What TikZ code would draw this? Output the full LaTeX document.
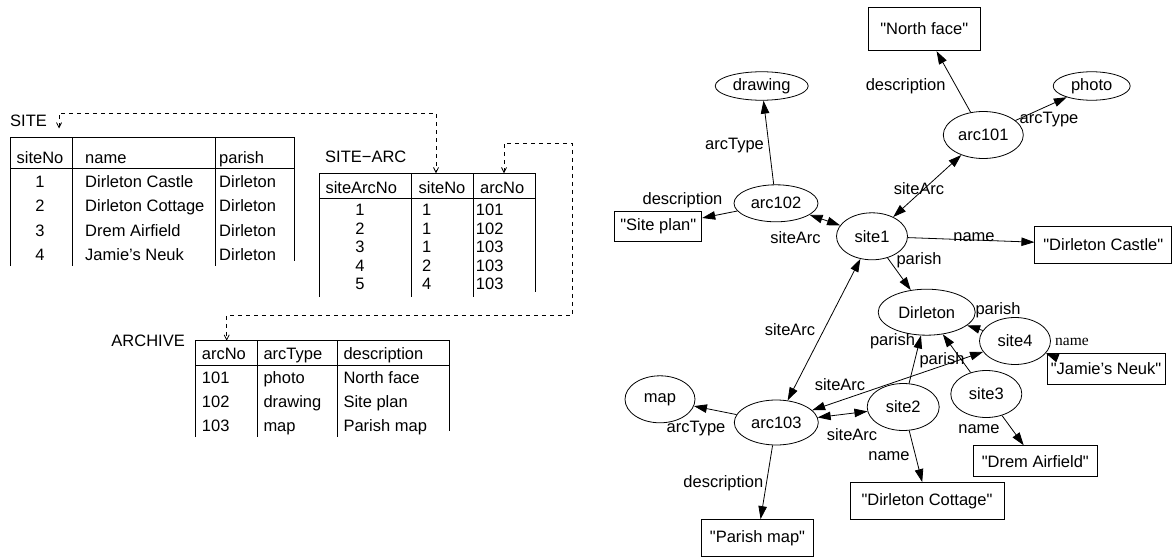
\documentclass[tikz,border=0pt]{standalone}
\usepackage{fontspec}
\setmainfont{Liberation Sans}[Ligatures=TeXOff]
\newfontfamily\serifname{Liberation Serif}
\usetikzlibrary{arrows.meta,shapes.geometric}

\begin{document}
\begin{tikzpicture}[x=1pt,y=-1pt,
  every node/.style={font=\fontsize{16.5}{19}\selectfont, inner sep=0pt},
  ent/.style={draw, ellipse, line width=0.8pt},
  lit/.style={draw, rectangle, line width=0.8pt},
  arr/.style={line width=0.8pt, -{Triangle[length=13pt,width=8.5pt]}},
  barr/.style={line width=0.8pt, {Triangle[length=13pt,width=8.5pt]}-{Triangle[length=13pt,width=8.5pt]}},
  rule/.style={line width=0.8pt},
  fk/.style={line width=0.8pt, dash pattern=on 4pt off 4pt,
    {Straight Barb[length=5pt,width=5pt]}-{Straight Barb[length=5pt,width=5pt]}},
  cell/.style={anchor=base west},
  ccell/.style={anchor=base},
  small/.style={font=\serifname\fontsize{15.5}{17}\selectfont}
]
\useasboundingbox (0,0) rectangle (1175,559);

% ---------------- relational tables ----------------
% SITE
\node[cell] (siteT) at (10,126.7) {SITE};
\draw[rule] (10.5,266) -- (10.5,137.5) -- (294,137.5) -- (294,261);
\draw[rule] (10.5,168) -- (294,168);
\draw[rule] (72,137.5) -- (72,266);
\draw[rule] (215,137.5) -- (215,266);
\node[ccell] (sh1) at (40,163.3) {siteNo};
\node[cell]  (sh2) at (85,163.3) {name};
\node[cell]  (sh3) at (219,163.3) {parish};
\foreach \n/\nm/\y in {1/Dirleton Castle/187.3, 2/Dirleton Cottage/211.7,
                       3/Drem Airfield/236, 4/Jamie’s Neuk/260} {
  \node[ccell] (s\n a) at (40,\y) {\n};
  \node[cell]  (s\n b) at (85,\y) {\nm};
  \node[cell]  (s\n c) at (219,\y) {Dirleton};
}

% SITE-ARC
\node[cell] (saT) at (325,162.3) {SITE−ARC};
\draw[rule] (319,297) -- (319,173.3) -- (535.3,173.3) -- (535.3,292);
\draw[rule] (319,198.3) -- (535.3,198.3);
\draw[rule] (411.7,173.3) -- (411.7,297);
\draw[rule] (473.3,173.3) -- (473.3,297);
\node[ccell] (sah1) at (361.3,193.3) {siteArcNo};
\node[ccell] (sah2) at (442,193.3) {siteNo};
\node[cell]  (sah3) at (480,193.3) {arcNo};
\foreach \a/\b/\c/\y in {1/1/101/215, 2/1/102/234, 3/1/103/252.3,
                         4/2/103/271.3, 5/4/103/289.3} {
  \node[ccell] (sa\a a) at (360,\y) {\a};
  \node[ccell] (sa\a b) at (426.7,\y) {\b};
  \node[cell]  (sa\a c) at (475.7,\y) {\c};
}

% ARCHIVE
\node[anchor=base east] (arT) at (185,346.7) {ARCHIVE};
\draw[rule] (195.7,437) -- (195.7,340.7) -- (449.3,340.7) -- (449.3,431);
\draw[rule] (195.7,365) -- (449.3,365);
\draw[rule] (257.3,340.7) -- (257.3,437);
\draw[rule] (337.3,340.7) -- (337.3,437);
\node[cell] (arh1) at (201.7,359.3) {arcNo};
\node[cell] (arh2) at (263.3,359.3) {arcType};
\node[cell] (arh3) at (343.3,359.3) {description};
\foreach \i/\a/\b/\c/\y in {1/101/photo/North face/383.3, 2/102/drawing/Site plan/407.3,
                            3/103/map/Parish map/431.7} {
  \node[cell] (ar\i a) at (201.7,\y) {\a};
  \node[cell] (ar\i b) at (263.3,\y) {\b};
  \node[cell] (ar\i c) at (343.3,\y) {\c};
}

% foreign-key references
\coordinate (fkSite) at (59,128.5);
\coordinate (fkSaSite) at (436,173.3);
\coordinate (fkSaArc) at (504,173.3);
\coordinate (fkArc) at (226.7,340.7);
\draw[fk] (fkSite) -- ++(0,-15.2) -| (fkSaSite);
\draw[fk] (fkSaArc) -- (504,143.3) -- (572.7,143.3) -- (572.7,315) -- (226.7,315) -- (fkArc);

% ---------------- graph ----------------
\node[ent, minimum width=93pt, minimum height=28.5pt] (drawing) at (761.7,86) {drawing};
\node[ent, minimum width=77pt, minimum height=28.5pt] (photo) at (1091.7,86) {photo};
\node[ent, minimum width=80pt, minimum height=47pt] (arc101) at (983.3,135) {arc101};
\node[ent, minimum width=84pt, minimum height=37pt] (arc102) at (776,203.3) {arc102};
\node[ent, minimum width=71pt, minimum height=47pt] (site1) at (872,236.3) {site1};
\node[ent, minimum width=97pt, minimum height=46pt] (dirleton) at (926.7,312.2) {Dirleton};
\node[ent, minimum width=71pt, minimum height=47pt] (site4) at (1015,341) {site4};
\node[ent, minimum width=71pt, minimum height=47pt] (site3) at (986.3,394) {site3};
\node[ent, minimum width=72pt, minimum height=47pt] (site2) at (903.2,407) {site2};
\node[ent, minimum width=84pt, minimum height=45pt] (arc103) at (776.3,422.5) {arc103};
\node[ent, minimum width=70pt, minimum height=47pt] (map) at (660,399.3) {map};

\node[lit, minimum width=112pt, minimum height=43.5pt] (northface) at (924.2,29) {"North face"};
\node[lit, minimum width=87pt, minimum height=30pt] (siteplan) at (658.3,226.7) {"Site plan"};
\node[lit, minimum width=137pt, minimum height=37pt] (castle) at (1103.3,244.7) {"Dirleton Castle"};
\node[lit, minimum width=118pt, minimum height=31pt] (jamie) at (1106,368.7) {"Jamie’s Neuk"};
\node[lit, minimum width=124pt, minimum height=31pt] (drem) at (1035.3,461.2) {"Drem Airfield"};
\node[lit, minimum width=154pt, minimum height=37pt] (cottage) at (927,501) {"Dirleton Cottage"};
\node[lit, minimum width=112pt, minimum height=37pt] (parishmap) at (757.5,538) {"Parish map"};

\draw[arr]  (arc102) -- (drawing);
\draw[arr]  (arc102) -- (siteplan);
\draw[barr] (arc102) -- (site1);
\draw[barr] (arc101) -- (site1);
\draw[arr]  (arc101) -- (northface);
\draw[arr]  (arc101) -- (photo);
\draw[arr]  (site1) -- (castle);
\draw[arr]  (site1) -- (dirleton);
\draw[barr] (arc103) -- (site1);
\draw[barr] (arc103) -- (site4);
\draw[barr] (arc103) -- (site2);
\draw[arr]  (arc103) -- (map);
\draw[arr]  (arc103) -- (parishmap);
\draw[arr]  (site2) -- (dirleton);
\draw[arr]  (site3) -- (dirleton);
\draw[arr]  (site4) -- (dirleton);
\coordinate (jn) at (1055,357);
\draw[arr]  (jn) -- (site4);
\draw[arr]  (site3) -- (drem);
\draw[arr]  (site2) -- (cottage);

% edge labels
\node (l1)  at (734.5,145.7) {arcType};
\node (l2)  at (682.5,200) {description};
\node (l3)  at (795.5,237.3) {siteArc};
\node (l4)  at (905.7,86) {description};
\node (l5)  at (1049,120) {arcType};
\node (l6)  at (919,188.3) {siteArc};
\node (l7)  at (974,237.3) {name};
\node (l8)  at (919,260) {parish};
\node (l9)  at (790,330) {siteArc};
\node (l10) at (840,385) {siteArc};
\node (l11) at (696,428.3) {arcType};
\node (l12) at (852,435) {siteArc};
\node (l13) at (723.3,483.3) {description};
\node (l14) at (889,456) {name};
\node (l15) at (892.5,341) {parish};
\node (l16) at (942,360.7) {parish};
\node (l17) at (979,429.3) {name};
\node (l18) at (998,310) {parish};
\node[small] (l19) at (1072,341.7) {name};
\end{tikzpicture}
\end{document}
